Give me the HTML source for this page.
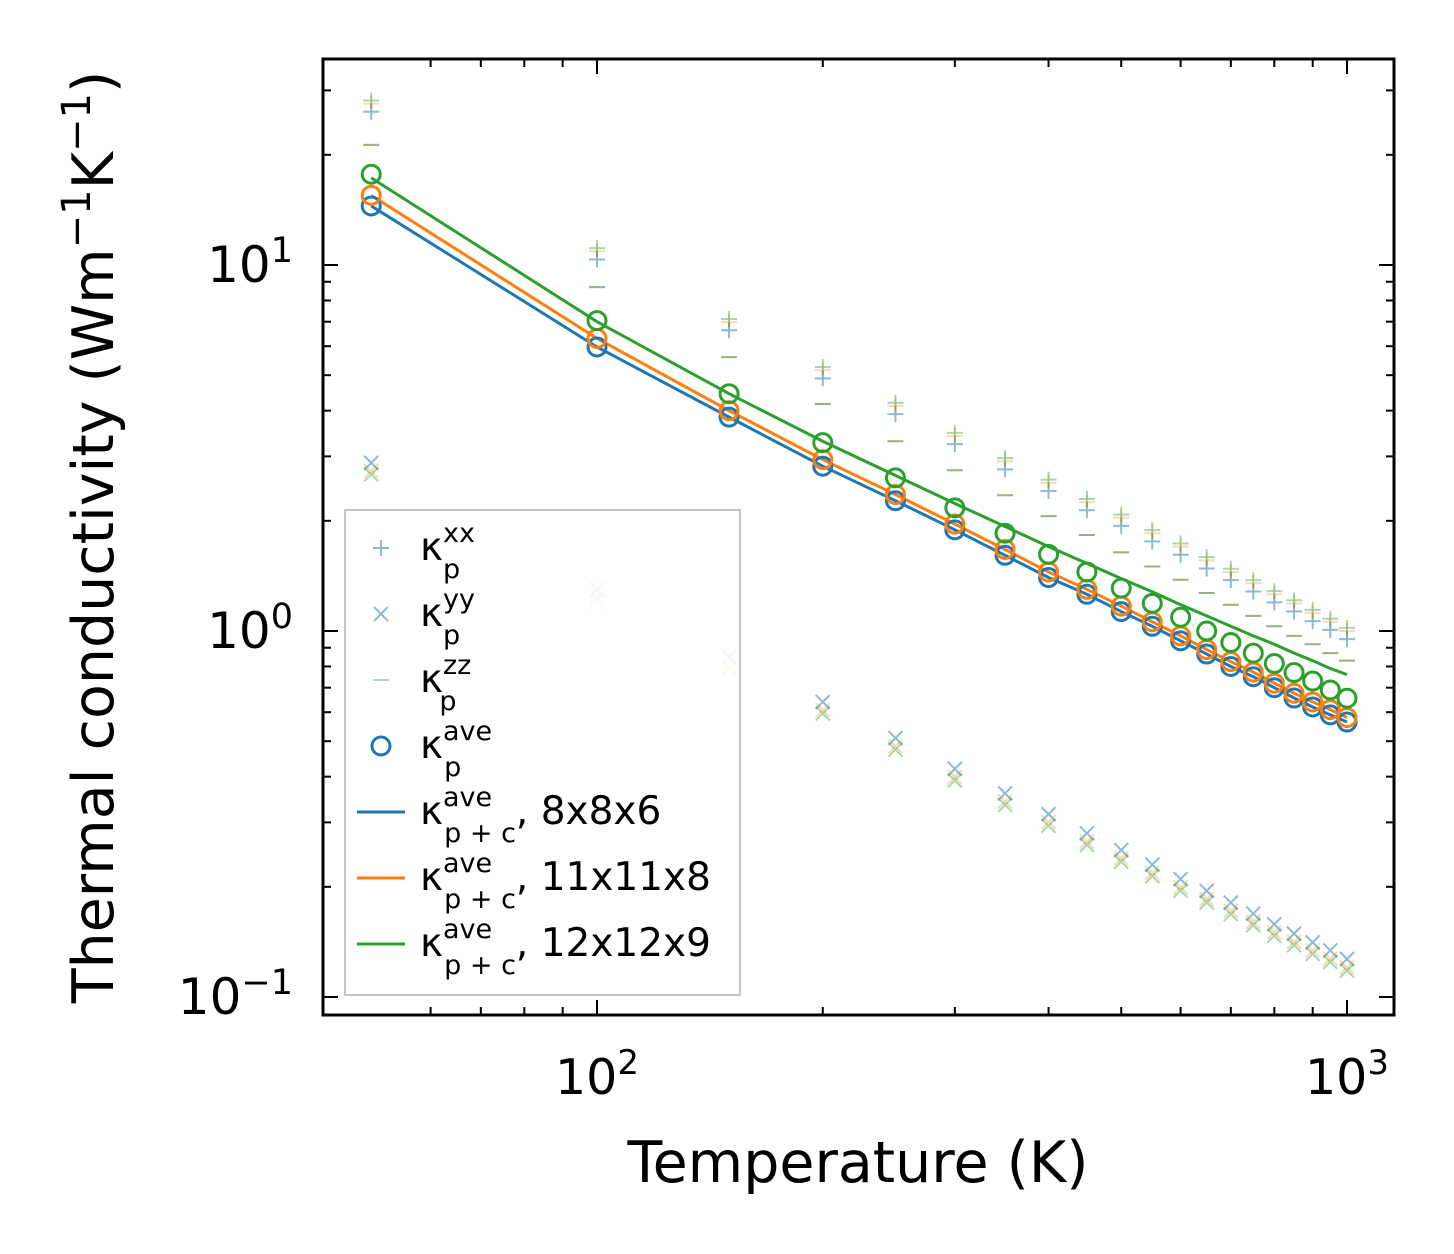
<!DOCTYPE html>
<html><head><meta charset="utf-8"><style>
body{margin:0;background:#fff}
svg{display:block;font-family:"DejaVu Sans","Liberation Sans",sans-serif}
</style></head><body>
<svg id="chart" width="1454" height="1254" viewBox="0 0 1454 1254" xmlns="http://www.w3.org/2000/svg">
<rect x="0" y="0" width="1454" height="1254" fill="#fff"/>
<g id="marks"></g>
<g id="axes"></g>
<text x="858" y="1182" font-size="57" text-anchor="middle">Temperature (K)</text>
<text transform="translate(113,537) rotate(-90)" font-size="57" text-anchor="middle">Thermal conductivity (Wm<tspan dy="-23" font-size="40">−1</tspan><tspan dy="23">K</tspan><tspan dy="-23" font-size="40">−1</tspan><tspan dy="23">)</tspan></text>
<g id="legend"></g>
</svg>
<script>
const temps=[50,100,150,200,250,300,350,400,450,500,550,600,650,700,750,800,850,900,950,1000];
const kxx=[27.6,10.9,6.98,5.16,4.12,3.41,2.91,2.54,2.25,2.04,1.85,1.70,1.56,1.45,1.35,1.26,1.19,1.12,1.06,1.0];
const kyy=[2.88,1.30,0.85,0.64,0.51,0.42,0.36,0.316,0.28,0.252,0.23,0.21,0.195,0.181,0.169,0.158,0.149,0.141,0.134,0.127];
const kzz=[21.3,8.7,5.6,4.17,3.3,2.75,2.35,2.06,1.83,1.64,1.50,1.38,1.27,1.18,1.10,1.03,0.97,0.92,0.87,0.83];
const aveBlue=[14.5,5.97,3.84,2.82,2.27,1.89,1.61,1.40,1.26,1.13,1.03,0.94,0.865,0.80,0.75,0.70,0.656,0.62,0.59,0.564];
const aveOrange=[15.5,6.3,4.0,2.94,2.36,1.96,1.67,1.45,1.30,1.17,1.06,0.97,0.89,0.825,0.772,0.72,0.676,0.64,0.61,0.58];
const aveGreen=[17.7,7.05,4.45,3.27,2.62,2.17,1.85,1.62,1.45,1.31,1.19,1.09,1.0,0.93,0.87,0.815,0.77,0.73,0.69,0.655];
const lineGreen=[17.3,7.0,4.45,3.3,2.66,2.23,1.93,1.70,1.53,1.39,1.28,1.18,1.10,1.03,0.97,0.92,0.87,0.83,0.79,0.76];
const yTicks=[0.1,1,10];
const xTicks=[100,1000];
const C={b:'#1f77b4',o:'#ff7f0e',g:'#2ca02c'};
const L={x0:323,x1:1394,y0:59,y1:1015};
const xs=t=>597+750*Math.log10(t/100);
const ys=v=>631-366*Math.log10(v);
const NS='http://www.w3.org/2000/svg';
function mk(tag,attrs,parent){const e=document.createElementNS(NS,tag);for(const k in attrs)e.setAttribute(k,attrs[k]);parent.appendChild(e);return e;}
const M=document.getElementById('marks');
function plus(x,y,c,op){const g=mk('g',{stroke:c,'stroke-width':2,opacity:op},M);mk('line',{x1:x-8,y1:y,x2:x+8,y2:y},g);mk('line',{x1:x,y1:y-8,x2:x,y2:y+8},g);return g;}
function cross(x,y,c,op){const g=mk('g',{stroke:c,'stroke-width':2,opacity:op},M);mk('line',{x1:x-7,y1:y-7,x2:x+7,y2:y+7},g);mk('line',{x1:x-7,y1:y+7,x2:x+7,y2:y-7},g);return g;}
function dash(x,y,c,op){return mk('line',{x1:x-8,y1:y,x2:x+8,y2:y,stroke:c,'stroke-width':2,opacity:op},M);}
const fac=[[C.b,1.0,0.95,0.5],[C.o,0.95,1.0,0.3],[C.g,0.93,1.02,0.4]];
fac.forEach(([c,fy,fx,op])=>{
 temps.forEach((t,i)=>{
  const p=plus(xs(t),ys(kxx[i]*fx),c,op);
  
  
  const q=cross(xs(t),ys(kyy[i]*fy),c,op);
  
  
  const d=dash(xs(t),ys(kzz[i]),c,0.3);
  
  
 });
});
function line(vals,c,name){const pts=temps.map((t,i)=>xs(t)+','+ys(vals[i])).join(' ');const e=mk('polyline',{points:pts,fill:'none',stroke:c,'stroke-width':3},M);
 
 }
function circles(vals,c,name){temps.forEach((t,i)=>{const e=mk('circle',{cx:xs(t),cy:ys(vals[i]),r:9,fill:'none',stroke:c,'stroke-width':3},M);
 
 });}
line(aveBlue,C.b,'line-8x8x6');line(aveOrange,C.o,'line-11x11x8');line(lineGreen,C.g,'line-12x12x9');
circles(aveBlue,C.b,'ave-point-8x8x6');circles(aveOrange,C.o,'ave-point-11x11x8');circles(aveGreen,C.g,'ave-point-12x12x9');
const A=document.getElementById('axes');
const fr=mk('rect',{x:L.x0,y:L.y0,width:L.x1-L.x0,height:L.y1-L.y0,fill:'none',stroke:'#000','stroke-width':3},A);

function tk(x1,y1,x2,y2){mk('line',{x1,y1,x2,y2,stroke:'#000','stroke-width':2},A);}
const xmin=[60,70,80,90,200,300,400,500,600,700,800,900];
xmin.forEach(t=>{const x=xs(t);tk(x,L.y1,x,L.y1-8);tk(x,L.y0,x,L.y0+8);});
xTicks.forEach(t=>{const x=xs(t);tk(x,L.y1,x,L.y1-15);tk(x,L.y0,x,L.y0+15);
 const e=mk('text',{x:x,y:1094,'font-size':49,'text-anchor':'middle'},A);
 
 e.innerHTML='10<tspan dy="-20" font-size="34">'+Math.log10(t)+'</tspan>';});
const ymin=[0.2,0.3,0.4,0.5,0.6,0.7,0.8,0.9,2,3,4,5,6,7,8,9,20,30];
ymin.forEach(v=>{const y=ys(v);tk(L.x0,y,L.x0+8,y);tk(L.x1,y,L.x1-8,y);});
yTicks.forEach(v=>{const y=ys(v);tk(L.x0,y,L.x0+15,y);tk(L.x1,y,L.x1-15,y);
 const ex=Math.round(Math.log10(v));
 const e=mk('text',{x:293,y:y+17,'font-size':50,'text-anchor':'end'},A);
 
 e.innerHTML='10<tspan dy="-20" font-size="35">'+(ex<0?'−1':ex)+'</tspan>';});
const G=document.getElementById('legend');
mk('rect',{x:345,y:510,width:395,height:485,fill:'#fff',stroke:'#aaa','stroke-width':1.5,opacity:0.9},G);
const items=[['plus','xx',''],['cross','yy',''],['dash','zz',''],['circ','ave',''],['lb','ave',', 8x8x6'],['lo','ave',', 11x11x8'],['lg','ave',', 12x12x9']];
items.forEach((it,i)=>{const y=548+i*66;
 let g;
 if(it[0]==='plus'){g=mk('g',{stroke:C.b,'stroke-width':2,opacity:0.5},G);mk('line',{x1:373,y1:y,x2:389,y2:y},g);mk('line',{x1:381,y1:y-8,x2:381,y2:y+8},g);}
 else if(it[0]==='cross'){g=mk('g',{stroke:C.b,'stroke-width':2,opacity:0.5},G);mk('line',{x1:374,y1:y-7,x2:388,y2:y+7},g);mk('line',{x1:374,y1:y+7,x2:388,y2:y-7},g);}
 else if(it[0]==='dash'){g=mk('line',{x1:373,y1:y,x2:389,y2:y,stroke:C.b,'stroke-width':2,opacity:0.35},G);}
 else if(it[0]==='circ'){g=mk('circle',{cx:381,cy:y,r:9,fill:'none',stroke:C.b,'stroke-width':3},G);}
 else{const c=it[0]==='lb'?C.b:it[0]==='lo'?C.o:C.g;g=mk('line',{x1:357,y1:y,x2:405,y2:y,stroke:c,'stroke-width':3},G);}
 
 const t=mk('text',{x:420,y:y+12,'font-size':39},G);
 
 const sub=it[2]?'p + c':'p';
 t.innerHTML='κ<tspan dy="-18" font-size="27">'+it[1]+'</tspan><tspan dx="'+(-16*it[1].length)+'" dy="36" font-size="27">'+sub+'</tspan><tspan dy="-18">'+it[2]+'</tspan>';
});
</script>
</body></html>
